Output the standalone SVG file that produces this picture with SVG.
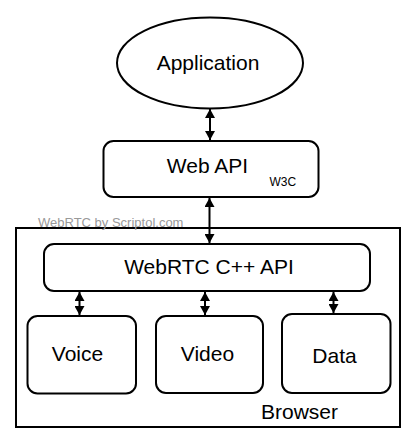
<svg xmlns="http://www.w3.org/2000/svg" width="419" height="441" viewBox="0 0 419 441">
<style>
.b{fill:#fff;stroke:#000;stroke-width:2}
.t{font-family:"Liberation Sans",Arial,sans-serif;font-size:21px;fill:#000}
.m{text-anchor:middle}
.c{stroke:#000;stroke-width:2;fill:none;marker-start:url(#ah);marker-end:url(#ah)}
</style>
<defs>
<marker id="ah" markerUnits="userSpaceOnUse" viewBox="0 0 9 10" refX="9" refY="5" markerWidth="9" markerHeight="10" orient="auto-start-reverse">
<path d="M0,0 L9,5 L0,10 z" fill="#000"/>
</marker>
</defs>
<rect width="419" height="441" fill="#fff"/>
<g id="browser">
<rect class="b" x="16" y="228" width="384" height="199" fill="none"/>
<text class="t" x="261" y="419">Browser</text>
</g>
<text x="38" y="226.5" font-family="Liberation Sans,Arial,sans-serif" font-size="13" fill="#999">WebRTC by Scriptol.com</text>
<g id="application">
<ellipse class="b" cx="210" cy="63" rx="93" ry="45.5"/>
<text class="t m" x="208" y="69.5">Application</text>
</g>
<g id="webapi">
<rect class="b" x="103.5" y="141" width="215" height="56" rx="10"/>
<text class="t m" x="207.5" y="172.5">Web API</text>
<text x="269.5" y="186" font-family="Liberation Sans,Arial,sans-serif" font-size="12">W3C</text>
</g>
<g id="cppapi">
<rect class="b" x="44" y="244" width="326" height="47" rx="10"/>
<text class="t m" x="209" y="274">WebRTC C++ API</text>
</g>
<g id="voice">
<rect class="b" x="27.5" y="316" width="108.5" height="77.5" rx="10"/>
<text class="t m" x="77.5" y="360.5">Voice</text>
</g>
<g id="video">
<rect class="b" x="156" y="316" width="107" height="77" rx="10"/>
<text class="t m" x="207.5" y="360.5">Video</text>
</g>
<g id="data">
<rect class="b" x="282" y="314" width="108.5" height="79" rx="10"/>
<text class="t m" x="334.5" y="363">Data</text>
</g>
<g id="connectors">
<line class="c" x1="210" y1="109" x2="210" y2="140"/>
<line class="c" x1="209.5" y1="198" x2="209.5" y2="243"/>
<line class="c" x1="79.5" y1="292" x2="79.5" y2="315"/>
<line class="c" x1="205" y1="292" x2="205" y2="315"/>
<line class="c" x1="333.5" y1="292" x2="333.5" y2="313"/>
</g>
</svg>
